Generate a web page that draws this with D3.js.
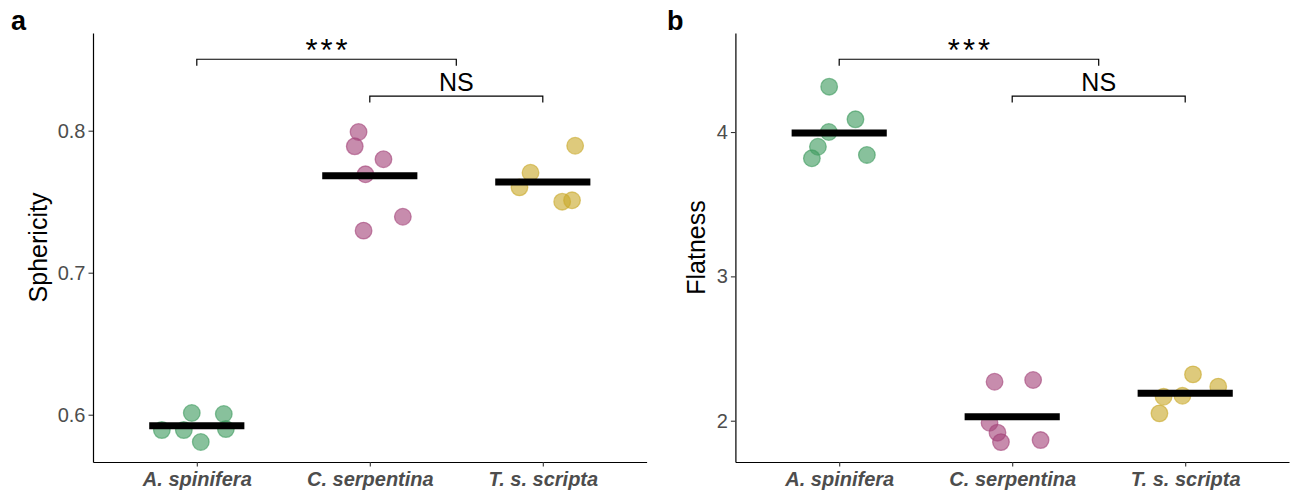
<!DOCTYPE html>
<html>
<head>
<meta charset="utf-8">
<script src="https://cdn.jsdelivr.net/npm/d3@7"></script>
<style>
  body { margin: 0; background: #fff; }
  text { font-family: "Liberation Sans", Arial, sans-serif; }
</style>
</head>
<body>
<script>
var WIDTH = 1292;
var HEIGHT = 493;

// categories
var species = ["A. spinifera", "C. serpentina", "T. s. scripta"];
var colors = ["#3f9b5f", "#a4457a", "#c9a92c"];

// sphericity values per species
var spherAspinifera = [0.5892, 0.5892, 0.6012, 0.6005, 0.5899, 0.5808];
var spherCserpentina = [0.7991, 0.7890, 0.7799, 0.7693, 0.7394, 0.7296];
var spherTsscripta = [0.7894, 0.7704, 0.7601, 0.7500, 0.7510];
var spherMeans = [0.5923, 0.7683, 0.7639];

// flatness values per species
var flatAspinifera = [4.314, 4.088, 4.000, 3.898, 3.818, 3.841];
var flatCserpentina = [2.270, 2.282, 1.986, 1.917, 1.852, 1.866];
var flatTsscripta = [2.321, 2.236, 2.166, 2.173, 2.051];
var flatMeans = [3.993, 2.028, 2.190];

// horizontal jitter of each point (fraction of category step)
var jitterSpher = [[-0.202, -0.075, -0.029, 0.156, 0.168, 0.023],
                   [-0.065, -0.087, 0.079, -0.025, 0.191, -0.036],
                   [0.187, -0.071, -0.135, 0.112, 0.169]];
var jitterFlat = [[-0.058, 0.094, -0.060, -0.123, -0.158, 0.160],
                  [-0.102, 0.121, -0.131, -0.085, -0.065, 0.164],
                  [0.045, 0.191, -0.125, -0.016, -0.149]];

// significance brackets: from/to in category index, y in data units
var spherBrackets = [{from: 0, to: 1.5, y: 0.8503, label: "***"},
                     {from: 1, to: 2, y: 0.8244, label: "NS"}];
var flatBrackets = [{from: 0, to: 1.5, y: 4.504, label: "***"},
                    {from: 1, to: 2, y: 4.249, label: "NS"}];

var spherTicks = [0.6, 0.7, 0.8];
var flatTicks = [2, 3, 4];

var svg = d3.select("body")
  .append("svg")
  .attr("width", WIDTH)
  .attr("height", HEIGHT);

function drawPanel(opt) {
  var x = d3.scalePoint()
    .domain(species)
    .range([opt.x0, opt.x1])
    .padding(0.6);
  var step = x.step();
  var y = d3.scaleLinear()
    .domain(opt.domain)
    .range([462, 33]);

  var g = svg.append("g");

  // y axis
  var yAxis = g.append("g")
    .attr("transform", "translate(" + opt.x0 + ",0)")
    .call(d3.axisLeft(y).tickValues(opt.ticks).tickSizeInner(4.5).tickSizeOuter(0)
      .tickPadding(3).tickFormat(opt.fmt));
  // x axis
  var xAxis = g.append("g")
    .attr("transform", "translate(0,462)")
    .call(d3.axisBottom(x).tickSizeInner(4.5).tickSizeOuter(0).tickPadding(5));

  [yAxis, xAxis].forEach(function (a) {
    a.select(".domain").attr("stroke", "#000").attr("stroke-width", 1.2);
    a.selectAll(".tick line").attr("stroke", "#333").attr("stroke-width", 1.1);
    a.selectAll(".tick text")
      .attr("fill", "#4d4d4d")
      .style("font-family", "'Liberation Sans', Arial, sans-serif");
  });
  yAxis.selectAll(".tick text").style("font-size", "20px");
  xAxis.selectAll(".tick text")
    .style("font-size", "20px")
    .style("font-weight", "bold")
    .style("font-style", "italic");

  // axis title
  g.append("text")
    .attr("transform", "translate(" + opt.titleX + "," + ((33 + 462) / 2) + ") rotate(-90)")
    .attr("text-anchor", "middle")
    .attr("dominant-baseline", "central")
    .style("font-size", "25px")
    .text(opt.title);

  // panel letter
  g.append("text")
    .attr("x", opt.letterX)
    .attr("y", 30)
    .style("font-size", "27px")
    .style("font-weight", "bold")
    .text(opt.letter);

  // points
  opt.series.forEach(function (vals, i) {
    var pts = vals.map(function (v, j) {
      return {cx: x(species[i]) + opt.jitter[i][j] * step, cy: y(v)};
    });
    g.selectAll(null)
      .data(pts)
      .enter()
      .append("circle")
      .attr("cx", function (d) { return d.cx; })
      .attr("cy", function (d) { return d.cy; })
      .attr("r", 8.3)
      .attr("fill", colors[i])
      .attr("fill-opacity", 0.62)
      .attr("stroke", colors[i])
      .attr("stroke-opacity", 0.62)
      .attr("stroke-width", 1.3);
  });

  // mean bars
  g.selectAll(null)
    .data(opt.means)
    .enter()
    .append("line")
    .attr("x1", function (d, i) { return x(species[i]) - 0.275 * step; })
    .attr("x2", function (d, i) { return x(species[i]) + 0.275 * step; })
    .attr("y1", function (d) { return y(d); })
    .attr("y2", function (d) { return y(d); })
    .attr("stroke", "#000")
    .attr("stroke-width", 7);

  // brackets
  var pos = function (k) { return x(species[0]) + k * step; };
  opt.brackets.forEach(function (b) {
    var x1 = pos(b.from), x2 = pos(b.to), yy = y(b.y);
    g.append("path")
      .attr("d", "M" + x1 + "," + (yy + 6.5) + "V" + yy + "H" + x2 + "V" + (yy + 6.5))
      .attr("fill", "none")
      .attr("stroke", "#000")
      .attr("stroke-width", 1.2);
    var t = g.append("text")
      .attr("x", (x1 + x2) / 2)
      .attr("text-anchor", "middle")
      .text(b.label);
    if (b.label === "***") {
      t.attr("y", yy + 2).style("font-size", "31px").style("letter-spacing", "3px")
        .attr("dx", 1.5);
    } else {
      t.attr("y", yy - 5.5).style("font-size", "25px");
    }
  });
}

drawPanel({
  x0: 93, x1: 646.6,
  domain: [0.5667, 0.8688],
  ticks: spherTicks, fmt: d3.format(".1f"),
  title: "Sphericity", titleX: 38,
  letter: "a", letterX: 11,
  series: [spherAspinifera, spherCserpentina, spherTsscripta],
  jitter: jitterSpher,
  means: spherMeans,
  brackets: spherBrackets
});

drawPanel({
  x0: 735.4, x1: 1289,
  domain: [1.714, 4.686],
  ticks: flatTicks, fmt: d3.format("d"),
  title: "Flatness", titleX: 696,
  letter: "b", letterX: 667,
  series: [flatAspinifera, flatCserpentina, flatTsscripta],
  jitter: jitterFlat,
  means: flatMeans,
  brackets: flatBrackets
});
</script>
</body>
</html>
